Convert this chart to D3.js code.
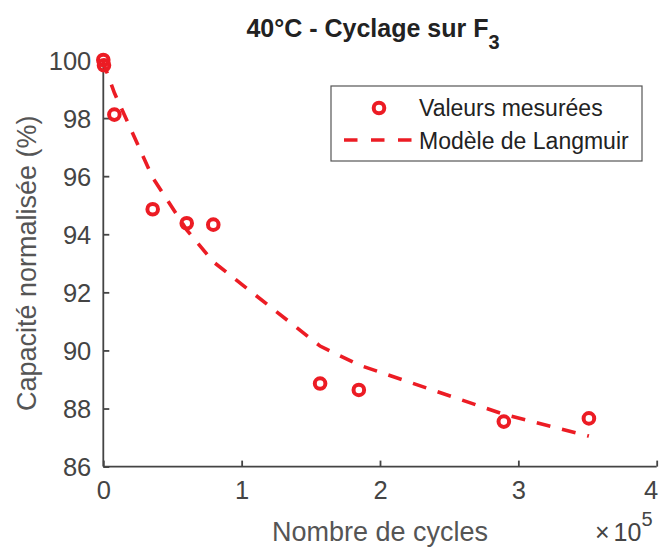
<!DOCTYPE html>
<html>
<head>
<meta charset="utf-8">
<script src="https://cdn.jsdelivr.net/npm/d3@7"></script>
<style>
  html, body { margin: 0; padding: 0; background: #fff; }
  svg { display: block; font-family: "Liberation Sans", Arial, Helvetica, sans-serif; }
</style>
</head>
<body>
<svg id="chart" width="662" height="547"></svg>
<script>
// ---- data ----
const cycles = [0, 500, 8000, 35700, 60300, 79500, 156700, 184700, 289500, 351000];
const measuredCapacity = [100, 99.82, 98.12, 94.86, 94.38, 94.33, 88.86, 88.64, 87.55, 87.66];
const modelCapacity = [100, 99.85, 98.87, 95.95, 94.15, 93.05, 90.15, 89.5, 87.8, 87.05];
const xTicks = [0, 1, 2, 3, 4];          // ×10^5
const yTicks = [86, 88, 90, 92, 94, 96, 98, 100];
const legendLabels = ["Valeurs mesurées", "Modèle de Langmuir"];
const xLabel = "Nombre de cycles";
const yLabel = "Capacité normalisée (%)";

// ---- layout ----
const W = 662, H = 547;
const margin = { left: 103.3, right: 5.3, top: 60, bottom: 80.4 };
const red = "#ec1c24";
const axisColor = "#444";

const svg = d3.select("#chart");
const x = d3.scaleLinear().domain([0, 4]).range([margin.left, W - margin.right]);
const y = d3.scaleLinear().domain([86, 100]).range([H - margin.bottom, margin.top]);

// axes
const xAxis = d3.axisBottom(x).tickValues(xTicks).tickFormat(d3.format("d")).tickSize(-6).tickPadding(14);
const yAxis = d3.axisLeft(y).tickValues(yTicks).tickFormat(d3.format("d")).tickSize(-6).tickPadding(12);

const gx = svg.append("g").attr("transform", `translate(0,${y(86)})`).call(xAxis);
const gy = svg.append("g").attr("transform", `translate(${x(0)},0)`).call(yAxis);
[gx, gy].forEach(g => {
  g.select(".domain").attr("stroke", axisColor).attr("stroke-width", 1.8);
  g.selectAll(".tick line").attr("stroke", axisColor).attr("stroke-width", 1.8);
  g.selectAll(".tick text").attr("fill", axisColor).attr("font-size", 25.5)
    .attr("font-family", "Liberation Sans, Arial, sans-serif");
});
gx.select(".domain").attr("d", `M${x(0)},0H${x(4)}`);
gx.selectAll(".tick text").attr("dy", "0.71em");
// keep the last tick label inside the page
gx.selectAll(".tick text").filter(d => d === xTicks[xTicks.length - 1]).attr("dx", -6);
gy.select(".domain").attr("d", `M0,${y(86)}V${y(100)}`);
gy.selectAll(".tick text").attr("dy", "0.36em");

// model line (dashed)
const line = d3.line().x((d, i) => x(cycles[i] / 1e5)).y(d => y(d));
svg.append("path")
  .datum(modelCapacity)
  .attr("d", line)
  .attr("fill", "none")
  .attr("stroke", red)
  .attr("stroke-width", 3.6)
  .attr("stroke-dasharray", "14,12");

// measured points
svg.append("g").selectAll("circle")
  .data(measuredCapacity)
  .join("circle")
  .attr("cx", (d, i) => x(cycles[i] / 1e5))
  .attr("cy", d => y(d))
  .attr("r", 5.3)
  .attr("fill", "none")
  .attr("stroke", red)
  .attr("stroke-width", 4);

// title
const title = svg.append("text")
  .attr("x", 373).attr("y", 37)
  .attr("text-anchor", "middle")
  .attr("font-size", 25).attr("font-weight", "bold").attr("fill", "#222");
title.append("tspan").text("40°C - Cyclage sur F");
title.append("tspan").attr("dy", 12).attr("font-size", 20).text("3");

// axis labels
svg.append("text")
  .attr("x", x(2)).attr("y", 541)
  .attr("text-anchor", "middle").attr("font-size", 27).attr("fill", "#555")
  .text(xLabel);
svg.append("text")
  .attr("transform", `translate(36,${y(93)}) rotate(-90)`)
  .attr("text-anchor", "middle").attr("font-size", 27).attr("fill", "#555")
  .text(yLabel);

// ×10^5 multiplier
const mult = svg.append("text")
  .attr("x", 595).attr("y", 541).attr("font-size", 25).attr("fill", axisColor);
mult.append("tspan").text("×");
mult.append("tspan").attr("dx", 4).text("10");
mult.append("tspan").attr("dy", -15).attr("font-size", 20).text("5");

// legend
const lg = svg.append("g");
lg.append("rect").attr("x", 331).attr("y", 86).attr("width", 311).attr("height", 75)
  .attr("fill", "#fff").attr("stroke", "#555").attr("stroke-width", 1.2);
lg.append("circle").attr("cx", 379).attr("cy", 108).attr("r", 5.3)
  .attr("fill", "none").attr("stroke", red).attr("stroke-width", 4);
lg.append("line").attr("x1", 344).attr("x2", 412).attr("y1", 140).attr("y2", 140)
  .attr("stroke", red).attr("stroke-width", 3.6).attr("stroke-dasharray", "13.5,13.5");
lg.selectAll("text.leg").data(legendLabels).join("text")
  .attr("class", "leg")
  .attr("x", 419).attr("y", (d, i) => 116 + i * 33)
  .attr("font-size", 23).attr("fill", "#222")
  .text(d => d);
</script>
</body>
</html>
